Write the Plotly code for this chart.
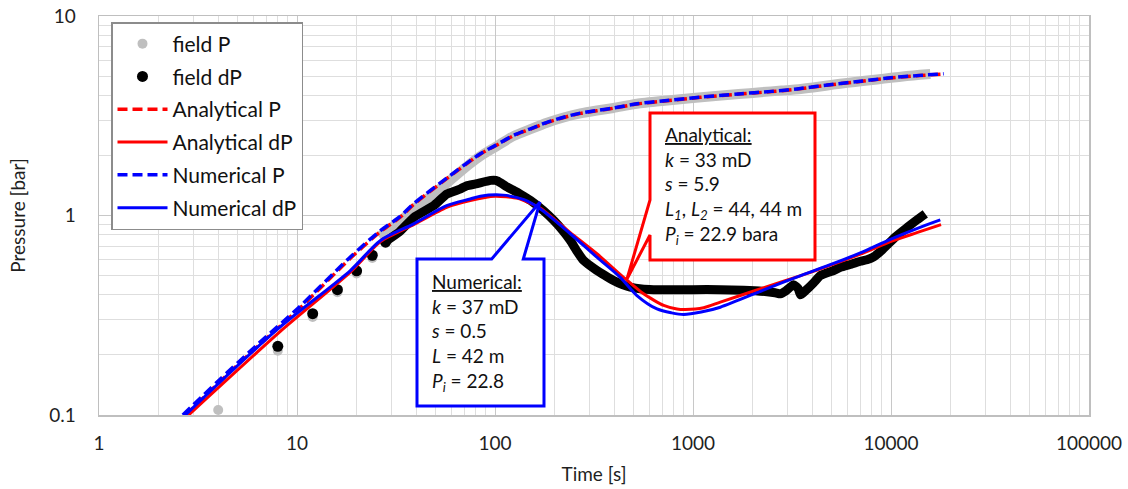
import plotly.graph_objects as go

# ---------------- data ----------------
# field P: sparse early points
fieldP_t_pts = [4, 8, 12, 16, 20, 24]
fieldP_p_pts = [0.106, 0.21, 0.31, 0.412, 0.512, 0.612]
# field P: dense record (drawn as a thick band)
fieldP_t = [26, 30, 35, 39, 45, 50, 57, 65, 75, 84, 100, 124, 151, 183, 222, 270, 327,
            397, 521, 700, 1000, 1300, 1700, 2200, 2800, 3500, 4300, 5100, 6000, 7200,
            8500, 10000, 12000, 14000, 15800]
fieldP_p = [0.78, 0.87, 0.98, 1.08, 1.2, 1.3, 1.45, 1.62, 1.82, 1.98, 2.2, 2.5, 2.71,
            2.92, 3.1, 3.25, 3.36, 3.46, 3.63, 3.75, 3.88, 3.97, 4.06, 4.15, 4.23, 4.31,
            4.42, 4.53, 4.62, 4.72, 4.81, 4.9, 5.0, 5.07, 5.12]

# field dP: sparse early points
fielddP_t_pts = [8, 12, 16, 20, 24, 28]
fielddP_p_pts = [0.221, 0.322, 0.425, 0.528, 0.632, 0.735]
# field dP: dense record
fielddP_t = [28, 33, 39, 49, 57, 67, 72, 80, 95, 101, 108, 115, 125, 134, 151, 175, 198,
             220, 240, 260, 280, 327, 360, 397, 440, 482, 550, 632, 800, 1000, 1374,
             1800, 2365, 2600, 2760, 2950, 3220, 3400, 3490, 3700, 4064, 4400, 5130,
             5550, 6300, 7000, 7560, 8170, 9000, 9550, 10500, 12050, 13500, 14900]
fielddP_p = [0.74, 0.83, 0.98, 1.12, 1.28, 1.36, 1.41, 1.44, 1.50, 1.50, 1.45, 1.39,
             1.33, 1.28, 1.19, 1.06, 0.944, 0.84, 0.75, 0.66, 0.595, 0.53, 0.50, 0.472,
             0.45, 0.437, 0.428, 0.425, 0.424, 0.425, 0.425, 0.422, 0.415, 0.41, 0.405,
             0.42, 0.45, 0.43, 0.40, 0.42, 0.46, 0.50, 0.53, 0.55, 0.57, 0.59, 0.60,
             0.62, 0.67, 0.71, 0.78, 0.87, 0.95, 1.02]

# Analytical model
anaP_t = [2.75, 4, 6.3, 10.4, 18.6, 26.4, 33.2, 38.8, 57, 84.3, 100, 124, 151, 183, 222,
          270, 327, 397, 521, 700, 1089, 1700, 2500, 3350, 5130, 7000, 9930, 14000, 18450]
anaP_p = [0.1, 0.144, 0.22, 0.345, 0.61, 0.83, 0.98, 1.135, 1.53, 2.03, 2.23, 2.51, 2.71,
          2.92, 3.10, 3.25, 3.35, 3.45, 3.62, 3.74, 3.91, 4.06, 4.18, 4.30, 4.54, 4.70,
          4.89, 5.03, 5.12]
anadP_t = [2.835, 8.4, 18.6, 26.4, 38.8, 57, 75, 100, 130, 169, 240, 327, 446, 563, 711,
           830, 915, 1132, 1374, 2365, 3500, 5130, 7000, 9930, 13500, 17900]
anadP_p = [0.1, 0.267, 0.52, 0.74, 0.90, 1.10, 1.19, 1.25, 1.22, 1.09, 0.82, 0.643, 0.49,
           0.405, 0.354, 0.34, 0.338, 0.345, 0.368, 0.44, 0.50, 0.57, 0.64, 0.74, 0.82, 0.90]

# Numerical model
numP_t = [2.65, 4, 6.3, 10.4, 18.6, 26.4, 33.2, 38.8, 57, 84.3, 100, 124, 151, 183, 222,
          270, 327, 397, 521, 700, 1089, 1700, 2500, 3350, 5130, 7000, 9930, 14000, 18450]
numP_p = [0.1, 0.148, 0.225, 0.352, 0.62, 0.84, 0.99, 1.145, 1.54, 2.04, 2.24, 2.52, 2.72,
          2.93, 3.11, 3.26, 3.36, 3.46, 3.63, 3.75, 3.92, 4.07, 4.19, 4.31, 4.55, 4.71,
          4.9, 5.04, 5.13]
numdP_t = [2.73, 8.0, 18.6, 26.4, 38.8, 57, 75, 84.3, 110, 140, 169, 240, 327, 429, 521,
           658, 780, 897, 1100, 1374, 2365, 3500, 5130, 7000, 9930, 13500, 17740]
numdP_p = [0.1, 0.27, 0.53, 0.75, 0.908, 1.12, 1.21, 1.25, 1.265, 1.20, 1.08, 0.81, 0.618,
           0.49, 0.397, 0.34, 0.325, 0.319, 0.328, 0.347, 0.43, 0.50, 0.575, 0.65, 0.76,
           0.86, 0.95]

x_tickvals = [1, 10, 100, 1000, 10000, 100000]
x_ticktext = ["1", "10", "100", "1000", "10000", "100000"]
y_tickvals = [0.1, 1, 10]
y_ticktext = ["0.1", "1", "10"]

legend_names = ["field P", "field dP", "Analytical P", "Analytical dP", "Numerical P", "Numerical dP"]

ana_text = ("<u>Analytical:</u><br><i>k</i> = 33 mD<br><i>s</i> = 5.9<br>"
            "<i>L<sub>1</sub></i>, <i>L<sub>2</sub></i> = 44, 44 m<br><i>P<sub>i</sub></i> = 22.9 bara")
num_text = ("<u>Numerical:</u><br><i>k</i> = 37 mD<br><i>s</i> = 0.5<br>"
            "<i>L</i> = 42 m<br><i>P<sub>i</sub></i> = 22.8")

# ---------------- layout geometry ----------------
W, H = 1128, 489
# plot area in window pixels
PX0, PX1, PY0, PY1 = 99, 1089, 16, 415
L_M, T_M = PX0, PY0
R_M = W - PX1
B_M = H - PY1


def px(x):
    return (x - PX0) / (PX1 - PX0)


def py(y):
    return (PY1 - y) / (PY1 - PY0)


FONT = "Lato"
GREY = "#bfbfbf"
RED = "#ff0000"
BLUE = "#0000ff"
TXT = "#1f1f1f"

fig = go.Figure()

# field P
fig.add_trace(go.Scatter(x=fieldP_t, y=fieldP_p, mode="lines",
                         line=dict(color=GREY, width=10, shape="spline", smoothing=0.6),
                         legendgroup="g1", showlegend=False, hoverinfo="skip"))
fig.add_trace(go.Scatter(x=fieldP_t_pts, y=fieldP_p_pts, mode="markers", name=legend_names[0],
                         marker=dict(color=GREY, size=10), legendgroup="g1"))
# field dP
fig.add_trace(go.Scatter(x=fielddP_t, y=fielddP_p, mode="lines",
                         line=dict(color="black", width=9, shape="spline", smoothing=0.4),
                         legendgroup="g2", showlegend=False, hoverinfo="skip"))
fig.add_trace(go.Scatter(x=fielddP_t_pts, y=fielddP_p_pts, mode="markers", name=legend_names[1],
                         marker=dict(color="black", size=11), legendgroup="g2"))
# models
fig.add_trace(go.Scatter(x=anaP_t, y=anaP_p, mode="lines", name=legend_names[2], legendgroup="g3",
                         line=dict(color=RED, width=3.5, dash="10px,5px", shape="spline", smoothing=0.8)))
fig.add_trace(go.Scatter(x=anadP_t, y=anadP_p, mode="lines", name=legend_names[3], legendgroup="g4",
                         line=dict(color=RED, width=3, shape="spline", smoothing=0.6)))
fig.add_trace(go.Scatter(x=numP_t, y=numP_p, mode="lines", name=legend_names[4], legendgroup="g5",
                         line=dict(color=BLUE, width=3.5, dash="10px,5px", shape="spline", smoothing=0.8)))
fig.add_trace(go.Scatter(x=numdP_t, y=numdP_p, mode="lines", name=legend_names[5], legendgroup="g6",
                         line=dict(color=BLUE, width=3, shape="spline", smoothing=0.8)))

# ---------------- callouts ----------------
red_box = [(650, 113), (815, 113), (815, 260), (650, 260), (650, 235), (627, 279), (650, 200)]
blue_box = [(417, 259), (491.7, 259), (540, 202), (523.3, 259), (544, 259), (544, 406), (417, 406)]


def path_of(pts):
    return "M " + " L ".join(f"{px(a):.5f},{py(b):.5f}" for a, b in pts) + " Z"


shapes = [
    dict(type="path", path=path_of(red_box), xref="paper", yref="paper",
         line=dict(color=RED, width=3), fillcolor="white", layer="above"),
    dict(type="path", path=path_of(blue_box), xref="paper", yref="paper",
         line=dict(color=BLUE, width=3), fillcolor="white", layer="above"),
]

annotations = [
    dict(text=ana_text, xref="paper", yref="paper", x=px(662), y=py(121), xanchor="left",
         yanchor="top", align="left", showarrow=False, font=dict(family=FONT, size=19, color="#111111")),
    dict(text=num_text, xref="paper", yref="paper", x=px(429), y=py(268), xanchor="left",
         yanchor="top", align="left", showarrow=False, font=dict(family=FONT, size=19, color="#111111")),
]

axis_common = dict(
    type="log", showgrid=True, gridcolor="#c8c8c8", gridwidth=1,
    showline=True, mirror=True, linecolor="#bfbfbf", linewidth=1.5,
    ticks="", zeroline=False,
    tickfont=dict(family=FONT, size=19, color=TXT),
    minor=dict(showgrid=True, gridcolor="#dedede", gridwidth=1, dtick="D1", ticks=""),
)

fig.update_layout(
    width=W, height=H,
    margin=dict(l=L_M, r=R_M, t=T_M, b=B_M, autoexpand=False),
    paper_bgcolor="white", plot_bgcolor="white",
    font=dict(family=FONT, size=19, color=TXT),
    xaxis=dict(**axis_common, range=[0, 5], tickvals=x_tickvals, ticktext=x_ticktext,
               ticklabelstandoff=11,
               title=dict(text="Time [s]", font=dict(family=FONT, size=19, color=TXT), standoff=14)),
    yaxis=dict(**axis_common, range=[-1, 1], tickvals=y_tickvals, ticktext=y_ticktext,
               ticklabelstandoff=18,
               title=dict(text="Pressure [bar]", font=dict(family=FONT, size=19, color=TXT), standoff=18)),
    legend=dict(x=px(111), y=py(22), xanchor="left", yanchor="top", bgcolor="white",
                bordercolor="#8c8c8c", borderwidth=1.5, traceorder="grouped", tracegroupgap=2.5,
                itemwidth=50, font=dict(family=FONT, size=21, color="#111111")),
    shapes=shapes, annotations=annotations,
    showlegend=True,
    hovermode=False,
)

# remove the default 8px page margin so the figure sits at the window origin
fig.write_html("out.html", config={"displayModeBar": False, "staticPlot": True},
               post_script="document.body.style.margin='0';")
